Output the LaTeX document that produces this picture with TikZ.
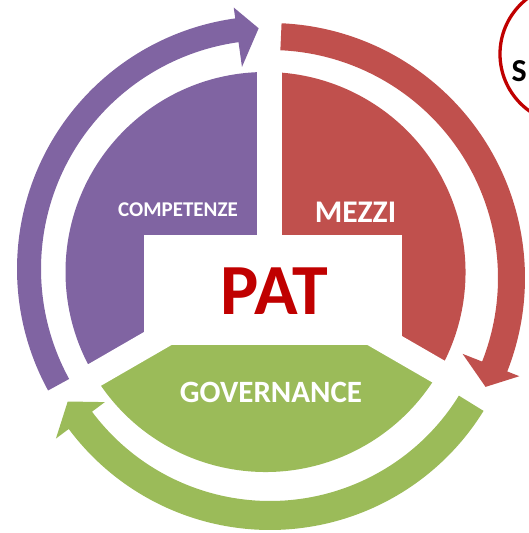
\documentclass[tikz,border=0pt]{standalone}
\usepackage{fontspec}
\setmainfont{Carlito}
\definecolor{purp}{HTML}{8064A2}
\definecolor{redd}{HTML}{C0504D}
\definecolor{grn}{HTML}{9BBB59}
\definecolor{patred}{HTML}{C00000}

% #1 colour, #2 centre, #3 r in, #4 r out, #5 tail, #6 head base, #7 tip, #8/#9 head in/out
\newcommand{\cycarrow}[9]{%
  \fill[#1,shift={#2}] (#5:#4) arc[start angle=#5,end angle=#6,radius=#4]
    -- (#6:#9) -- (#7:{(#3+#4)/2}) -- (#6:#8) -- (#6:#3)
    arc[start angle=#6,end angle=#5,radius=#3] -- cycle;}

\begin{document}
\begin{tikzpicture}[x=1pt,y=1pt,
  lbl/.style={text=white,font=\bfseries},
  gap/.style={white,line width=25pt}]
	\useasboundingbox (0,0) rectangle (529,533);
	\clip (0,0) rectangle (529,533);
	\coordinate (O) at (265.5,261);
	\coordinate (S) at (269.5,259);
	
	\fill[purp] (O) -- ++(90:200) arc[start angle=90,end angle=210,radius=200] -- cycle;
	\fill[redd] (O) -- ++(-30:200) arc[start angle=-30,end angle=90,radius=200] -- cycle;
	\fill[grn] (O) -- ++(210:200) arc[start angle=210,end angle=330,radius=200] -- cycle;
	\draw[gap] (S) -- ++(90:215);
	\draw[gap] (S) -- ++(210:215);
	\draw[gap] (S) -- ++(330:215);
	\fill[white] (144,188) rectangle (402,298);
	
	\cycarrow{purp}{(270,264)}{229}{253}{208.7}{97.9}{92.7}{204}{264}
	\cycarrow{redd}{(270,255)}{228}{255}{87.4}{-21.5}{-26.8}{207}{268}
	\cycarrow{grn}{(270,254)}{222}{251}{-31.7}{-143.3}{-148.8}{206}{267}
	
	\node[lbl,font=\bfseries\fontsize{21}{21}\selectfont] (comp) at (178,323) {COMPETENZE};
	\node[lbl,font=\bfseries\fontsize{31.5}{31.5}\selectfont] (mezzi) at (355.5,320.3) {MEZZI};
	\node[lbl,font=\bfseries\fontsize{31}{31}\selectfont] (gov) at (271,140.5) {GOVERNANCE};
	\node[text=patred,font=\bfseries\fontsize{72}{72}\selectfont] (pat) at (274.5,241.5) {PAT};
	
	\draw[patred,line width=3.3pt] (570,479) circle[radius=70];
	\node[anchor=base west,inner sep=0pt,font=\bfseries\fontsize{32}{32}\selectfont] (s) at (511.5,451) {S};
\end{tikzpicture}
\end{document}
